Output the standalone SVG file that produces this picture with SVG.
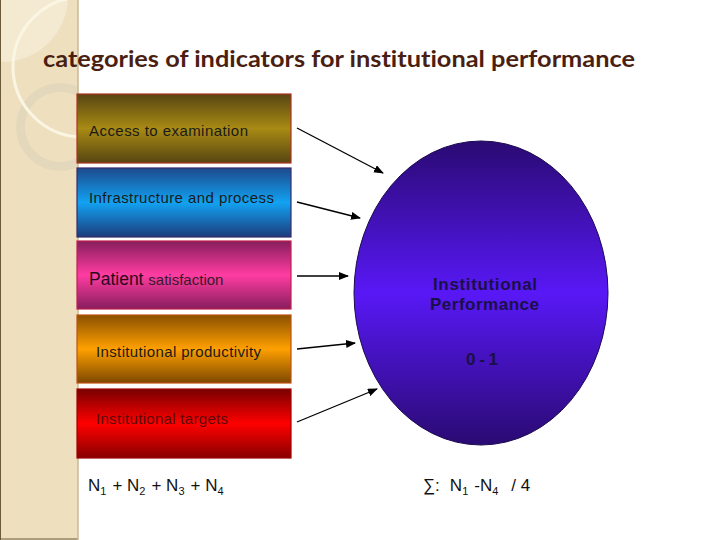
<svg xmlns="http://www.w3.org/2000/svg" width="720" height="540" viewBox="0 0 720 540">
<defs>
<clipPath id="panelClip"><rect x="0" y="0" width="78" height="540"/></clipPath>
<linearGradient id="gBrown" x1="0" y1="0" x2="0" y2="1"><stop offset="0" stop-color="#574512"/><stop offset="0.5" stop-color="#a88a14"/><stop offset="1" stop-color="#574512"/></linearGradient>
<linearGradient id="gBlue" x1="0" y1="0" x2="0" y2="1"><stop offset="0" stop-color="#1c4a8c"/><stop offset="0.5" stop-color="#12a2f2"/><stop offset="1" stop-color="#1c3c7c"/></linearGradient>
<linearGradient id="gPink" x1="0" y1="0" x2="0" y2="1"><stop offset="0" stop-color="#861e5c"/><stop offset="0.5" stop-color="#ff3ca2"/><stop offset="1" stop-color="#861e5c"/></linearGradient>
<linearGradient id="gOrange" x1="0" y1="0" x2="0" y2="1"><stop offset="0" stop-color="#8a5000"/><stop offset="0.5" stop-color="#ffa000"/><stop offset="1" stop-color="#7c4800"/></linearGradient>
<linearGradient id="gRed" x1="0" y1="0" x2="0" y2="1"><stop offset="0" stop-color="#780000"/><stop offset="0.5" stop-color="#ff0000"/><stop offset="1" stop-color="#880000"/></linearGradient>
<linearGradient id="gPurple" x1="0" y1="0" x2="0" y2="1"><stop offset="0" stop-color="#2a0a72"/><stop offset="0.5" stop-color="#5818f6"/><stop offset="1" stop-color="#2a0a72"/></linearGradient>
<marker id="arr" markerWidth="10" markerHeight="8" refX="9" refY="4" orient="auto" markerUnits="userSpaceOnUse"><path d="M0,0 L10,4 L0,8 Z" fill="#000"/></marker>
<style>
.box{stroke-width:1.2}
.lbl{font-family:"Liberation Sans",Arial,sans-serif;font-size:15px;fill:#1a1a1a}
.big{font-family:"Liberation Sans",Arial,sans-serif;font-weight:bold;font-size:17px;fill:#1a1048}
.formula{font-family:"Liberation Sans",Arial,sans-serif;font-size:17px;fill:#111}
.sub{font-size:11px}
.conn line{stroke:#000;stroke-width:1.3;marker-end:url(#arr)}
</style>
</defs>
<rect width="720" height="540" fill="#fff"/>
<g id="panel">
<rect x="0" y="0" width="78" height="540" fill="#eee0bf"/>
<g clip-path="url(#panelClip)">
<circle cx="2" cy="-4" r="66" fill="#f4ead2"/>
<circle cx="60" cy="127" r="39.5" fill="none" stroke="#e4d8bc" stroke-width="9"/>
<circle cx="83" cy="67" r="70" fill="none" stroke="#fbf5e3" stroke-width="3"/>
</g>
<line x1="0.5" y1="0" x2="0.5" y2="540" stroke="#6a5a3a" stroke-width="1"/>
<line x1="0" y1="539" x2="78" y2="539" stroke="#6a5a3a" stroke-width="1"/>
<line x1="78" y1="0" x2="78" y2="540" stroke="#c9b994" stroke-width="1.5"/>
</g>
<text id="title" x="43" y="67" font-family="Lato,'Open Sans',sans-serif" font-weight="bold" font-size="23" fill="#4a1e10" textLength="592" lengthAdjust="spacingAndGlyphs" style="font-variant-ligatures:none">categories of indicators for institutional performance</text>
<g id="box1"><rect class="box" x="77" y="94" width="214" height="69" fill="url(#gBrown)" stroke="#b0321e"/><text class="lbl" x="89" y="136" textLength="159" lengthAdjust="spacing">Access to examination</text></g>
<g id="box2"><rect class="box" x="77" y="168" width="214" height="69" fill="url(#gBlue)" stroke="#3a2a6a"/><text class="lbl" x="89" y="203" textLength="185" lengthAdjust="spacing">Infrastructure and process</text></g>
<g id="box3"><rect class="box" x="77" y="241" width="214" height="68" fill="url(#gPink)" stroke="#c02050"/><text x="89" y="285" font-family="'Liberation Sans',Arial,sans-serif" font-size="17.5" fill="#2a0a1a">Patient <tspan font-size="15" fill="#3a1a2c">satisfaction</tspan></text></g>
<g id="box4"><rect class="box" x="77" y="315" width="214" height="68" fill="url(#gOrange)" stroke="#c05010"/><text class="lbl" x="96" y="357" textLength="165" lengthAdjust="spacing">Institutional productivity</text></g>
<g id="box5"><rect class="box" x="77" y="389" width="214" height="69" fill="url(#gRed)" stroke="#a00000"/><text class="lbl" x="96" y="424" textLength="132" lengthAdjust="spacing" style="fill:#5a0a0a">Institutional targets</text></g>
<g id="performance">
<ellipse cx="481" cy="293" rx="127" ry="152" fill="url(#gPurple)" stroke="#1c0a50" stroke-width="1"/>
<text class="big" x="433" y="290" textLength="104" lengthAdjust="spacing">Institutional</text>
<text class="big" x="430" y="310" textLength="109" lengthAdjust="spacing">Performance</text>
<text class="big" x="466" y="365" textLength="32" lengthAdjust="spacing" xml:space="preserve">0 - 1</text>
</g>
<g id="connectors" class="conn">
<line x1="297" y1="128" x2="383" y2="173"/>
<line x1="297" y1="202" x2="360" y2="218"/>
<line x1="297" y1="276" x2="348" y2="276"/>
<line x1="297" y1="349" x2="355" y2="343"/>
<line x1="297" y1="422" x2="377" y2="389"/>
</g>
<g id="formulas">
<text class="formula" x="88" y="491">N<tspan class="sub" dy="4">1</tspan><tspan dy="-4" dx="6">+ N</tspan><tspan class="sub" dy="4">2</tspan><tspan dy="-4" dx="6">+ N</tspan><tspan class="sub" dy="4">3</tspan><tspan dy="-4" dx="6">+ N</tspan><tspan class="sub" dy="4">4</tspan></text>
<text class="formula" x="423" y="491">∑:<tspan dx="10">N</tspan><tspan class="sub" dy="4">1</tspan><tspan dy="-4" dx="6">-N</tspan><tspan class="sub" dy="4">4</tspan><tspan dy="-4" dx="13">/ 4</tspan></text>
</g>
</svg>
